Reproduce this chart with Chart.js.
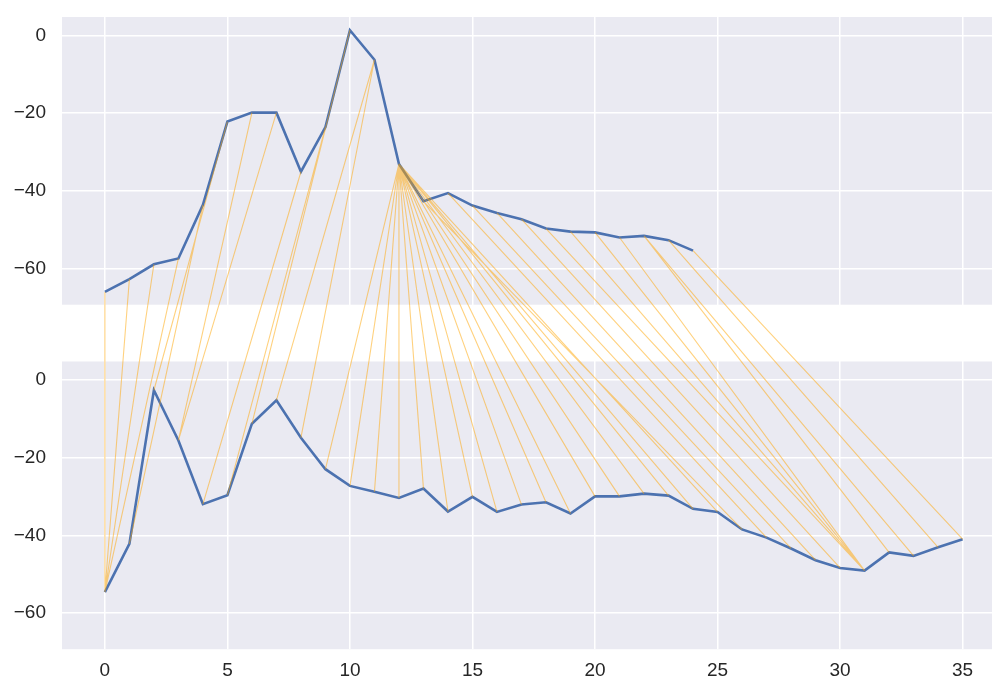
<!DOCTYPE html>
<html>
<head>
<meta charset="utf-8">
<script src="https://cdn.jsdelivr.net/npm/chart.js@4/dist/chart.umd.min.js"></script>
<style>
    html, body { margin: 0; padding: 0; background: #fff; overflow: hidden; }
</style>
</head>
<body>
<canvas id="dtwChart" width="992" height="682"></canvas>
<script>
// series
const topSeries = [-66.0, -62.7, -58.9, -57.4, -43.6, -22.2, -19.9, -19.9, -35.1, -23.6, 1.3, -6.3, -33.1,
    -42.7, -40.6, -43.8, -45.7, -47.3, -49.7, -50.5, -50.7, -52.0, -51.6, -52.7, -55.4];
const bottomSeries = [-54.6, -42.2, -2.7, -15.6, -32.0, -29.7, -11.3, -5.3, -14.9, -23.0, -27.3, -28.8, -30.4,
    -28.0, -33.9, -30.1, -34.0, -32.1, -31.5, -34.4, -30.0, -30.0, -29.3, -29.8, -33.2, -34.0, -38.5, -40.6,
    -43.4, -46.4, -48.4, -49.1, -44.4, -45.3, -43.1, -41.0];

// warping path: index in top series -> index in bottom series
const matchTop = [0, 1, 2, 3, 4, 5, 6, 7, 8, 9, 10, 11, 11,
    12, 12, 12, 12, 12, 12, 12, 12, 12, 12, 12, 12, 12, 12, 12, 12, 12,
    13, 14, 15, 16, 17, 18, 19, 20, 21, 22, 22, 23, 24];
const matchBottom = [0, 0, 0, 0, 1, 2, 3, 3, 4, 5, 6, 7, 8,
    9, 10, 11, 12, 13, 14, 15, 16, 17, 18, 19, 20, 21, 22, 23, 24, 25,
    26, 27, 28, 29, 30, 31, 31, 31, 31, 32, 33, 34, 35];

const xTicks = [0, 5, 10, 15, 20, 25, 30, 35];
const yTicks = [-60, -40, -20, 0];

// both panels share y limits; the top panel sits OFF units higher on one axis
const PANEL_MIN = -69.3;
const PANEL_MAX = 4.7;
const OFF = 88.6;

const matchData = [];
matchTop.forEach(function (i, k) {
    const j = matchBottom[k];
    matchData.push({x: i, y: topSeries[i] + OFF});
    matchData.push({x: j, y: bottomSeries[j]});
    matchData.push({x: j, y: null});
});

const panelBackground = {
    id: 'panelBackground',
    beforeDraw(chart) {
        const ctx = chart.ctx;
        const area = chart.chartArea;
        const y = chart.scales.y;
        ctx.save();
        ctx.fillStyle = '#ffffff';
        ctx.fillRect(0, 0, chart.width, chart.height);
        ctx.fillStyle = '#EAEAF2';
        [[PANEL_MAX + OFF, PANEL_MIN + OFF], [PANEL_MAX, PANEL_MIN]].forEach(function (b) {
            const y1 = y.getPixelForValue(b[0]);
            const y2 = y.getPixelForValue(b[1]);
            ctx.fillRect(area.left, y1, area.right - area.left, y2 - y1);
        });
        ctx.restore();
    }
};

Chart.defaults.font.family = '"Liberation Sans", Arial, sans-serif';
Chart.defaults.font.size = 19;
Chart.defaults.color = '#262626';

new Chart(document.getElementById('dtwChart'), {
    type: 'line',
    data: {
        datasets: [
            {
                data: matchData,
                borderColor: 'rgba(255,165,0,0.5)',
                borderWidth: 1.1,
                pointRadius: 0,
                spanGaps: false
            },
            {
                data: topSeries.map((v, i) => ({x: i, y: v + OFF})),
                borderColor: '#4C72B0',
                borderWidth: 2.6,
                pointRadius: 0
            },
            {
                data: bottomSeries.map((v, i) => ({x: i, y: v})),
                borderColor: '#4C72B0',
                borderWidth: 2.6,
                pointRadius: 0
            }
        ]
    },
    options: {
        responsive: false,
        animation: false,
        devicePixelRatio: 1,
        layout: {padding: {top: 17, left: 0, right: 0, bottom: 0}},
        plugins: {legend: {display: false}, tooltip: {enabled: false}},
        elements: {line: {tension: 0}},
        scales: {
            x: {
                type: 'linear',
                min: -1.75,
                max: 36.2,
                afterBuildTicks: function (scale) { scale.ticks = xTicks.map(v => ({value: v})); },
                afterFit: function (scale) {
                    scale.height = 32.8;
                    scale.paddingLeft = 0;
                    scale.paddingRight = 0;
                },
                grid: {color: '#ffffff', lineWidth: 1.5, drawTicks: false},
                border: {display: false},
                ticks: {padding: 10, maxRotation: 0}
            },
            y: {
                type: 'linear',
                min: PANEL_MIN,
                max: PANEL_MAX + OFF,
                afterBuildTicks: function (scale) {
                    scale.ticks = yTicks.map(v => ({value: v})).concat(yTicks.map(v => ({value: v + OFF})));
                },
                afterFit: function (scale) {
                    scale.width = 62;
                    scale.paddingTop = 0;
                    scale.paddingBottom = 0;
                },
                grid: {color: '#ffffff', lineWidth: 1.5, drawTicks: false},
                border: {display: false},
                ticks: {
                    padding: 16,
                    callback: function (value) {
                        const v = Math.round(value > PANEL_MAX ? value - OFF : value);
                        return v < 0 ? '\u2212' + Math.abs(v) : String(v);
                    }
                }
            }
        }
    },
    plugins: [panelBackground]
});
</script>
</body>
</html>
